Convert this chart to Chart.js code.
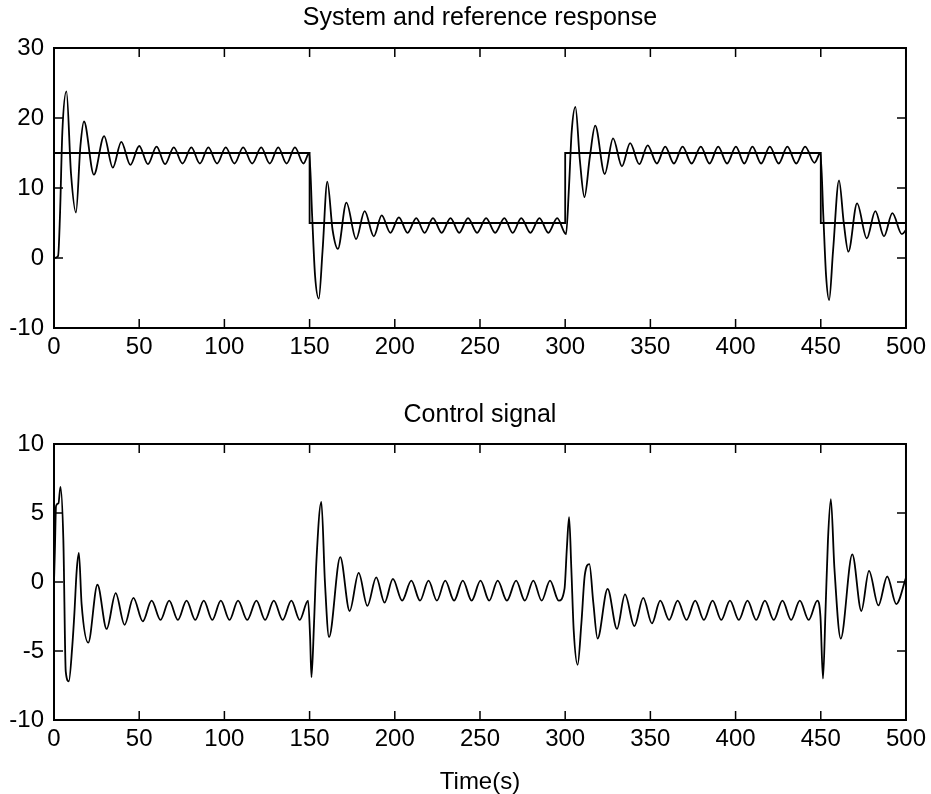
<!DOCTYPE html>
<html>
<head>
<meta charset="utf-8">
<title>System and reference response</title>
<script src="https://cdn.jsdelivr.net/npm/chart.js@4.4.1/dist/chart.umd.min.js"></script>
<style>
  html, body { margin: 0; padding: 0; background: #fff; }
  #wrap { position: relative; width: 931px; height: 794px; overflow: hidden; }
  canvas { position: absolute; left: 0; }
  #topChart { top: 0; }
  #bottomChart { top: 380px; }
</style>
</head>
<body>
<div id="wrap">
  <canvas id="topChart" width="931" height="380"></canvas>
  <canvas id="bottomChart" width="931" height="414"></canvas>
</div>
<script>
// tick labels
const timeTicks = [0, 50, 100, 150, 200, 250, 300, 350, 400, 450, 500];
const responseTicks = [-10, 0, 10, 20, 30];
const controlTicks = [-10, -5, 0, 5, 10];

// reference (setpoint), held until the next switch time
const refTime = [0, 150, 300, 450, 500];
const refValue = [15, 5, 15, 5, 5];

// system response, peaks and troughs
const respTime = [
  0, 2.4, 3.5, 4.9, 7.3, 10, 12.9, 15.5, 17.6, 23.4, 29.4, 34.5, 39.5, 44.8, 50,
  55.1, 60.2, 65.2, 70.3, 75.4, 80.6, 85.6, 90.6, 95.7, 100.8, 105.9, 111, 116.3,
  121.6, 126.6, 131.6, 136.5, 141.4, 146.4, 149.8,
  151.5, 153.2, 155.4, 157.6, 160.4, 163.5, 166.6, 171.6, 177.3, 182.3, 187.7,
  192.3, 197.4, 202.4, 207.5, 212.6, 217.5, 222.4, 227.5, 232.7, 237.8, 243,
  248.3, 253.6, 258.9, 264.3, 269.2, 274.2, 279.6, 284.9, 290.1, 295.3, 300.5,
  302.2, 303.8, 306, 308.6, 311.3, 314.5, 317.6, 323.2, 328.1, 333.3, 338.1,
  343.5, 348.4, 353.8, 358.7, 363.8, 368.9, 374.2, 379.6, 384.7, 389.8, 395,
  400.2, 405.1, 409.9, 415, 420.1, 425.3, 430.4, 435.6, 440.8, 446.3, 449.8,
  451.5, 453.1, 454.9, 457.2, 460.7, 463.5, 466.2, 471.3, 477, 482, 487.1, 492,
  497.6, 500
];
const respValue = [
  0, 0.3, 6, 18, 23.8, 12, 6.5, 16, 19.5, 11.9, 17.4, 12.9, 16.6, 13.3, 16.0,
  13.4, 15.9, 13.4, 15.8, 13.5, 15.8, 13.5, 15.8, 13.5, 15.8, 13.5, 15.8, 13.5,
  15.8, 13.5, 15.8, 13.5, 15.8, 13.5, 15.0,
  6, -2.5, -5.8, 1, 10.9, 4, 1.3, 7.9, 2.7, 6.7, 3.1,
  6.1, 3.6, 5.8, 3.6, 5.7, 3.6, 5.7, 3.6, 5.7, 3.6, 5.7,
  3.6, 5.7, 3.6, 5.7, 3.6, 5.7, 3.6, 5.7, 3.6, 5.7, 3.4,
  10, 18, 21.6, 14, 8.7, 14.5, 18.9, 12.0, 17.1, 13.1, 16.4,
  13.4, 16.1, 13.5, 15.9, 13.5, 15.9, 13.5, 15.9, 13.5, 15.9, 13.5,
  15.9, 13.5, 15.9, 13.5, 15.9, 13.5, 15.9, 13.5, 15.9, 13.6, 15.0,
  6, -2.5, -6.0, 1, 11.1, 5, 0.9, 7.8, 2.8, 6.7, 3.1, 6.4,
  3.4, 4.0
];

// control signal
const ctrlTime = [
  0, 0.5, 1.2, 2.6, 3.8, 5.5, 6.9, 8.7, 10.7, 12, 13.3, 14.6, 16.2, 20.1, 25.5,
  30.9, 36.2, 41.4, 46.6, 52.1, 57.3, 62.5, 67.6, 72.7, 77.8, 82.9, 87.9, 92.9,
  97.9, 103, 108, 113.4, 118.8, 123.9, 129, 134.2, 139.3, 144.2, 149.1,
  150.3, 151.1, 152.6, 154, 156.9, 159, 161.4, 168, 173.5, 178.8, 183.9, 189.1,
  194, 198.9, 204.3, 209.7, 214.8, 219.8, 224.7, 229.6, 234.8, 239.9, 245.1,
  250.3, 255.4, 260.4, 265.8, 271.2, 276.3, 281.3, 286.2, 291.1, 296.2, 299.6,
  301, 302.3, 303.6, 305, 307.3, 309.5, 311.5, 314.2, 316.5, 319, 324.9, 330.4,
  335.1, 340.6, 345.8, 350.9, 355.8, 361, 366, 371.2, 376.3, 381.4, 386.5,
  391.6, 396.7, 401.9, 407, 412.1, 417.2, 422.4, 427.5, 432.6, 437.7, 442.9,
  448, 449.8,
  451.3, 452.8, 454.2, 455.9, 458, 461.7, 468.5, 473.8, 478.3, 483.8, 489,
  494.3, 500
];
const ctrlValue = [
  0, 2.2, 5.5, 5.7, 6.9, 3.0, -6.5, -7.2, -4.7, -2.2, 0.8, 2.1, -1.6, -4.4, -0.2,
  -3.4, -0.8, -3.1, -1.15, -2.85, -1.35, -2.75, -1.35, -2.75, -1.35, -2.75, -1.35, -2.75,
  -1.35, -2.75, -1.35, -2.75, -1.35, -2.75, -1.35, -2.75, -1.35, -2.75, -1.35,
  -4, -6.9, -3, 1.5, 5.8, 0, -4.0, 1.8, -2.1, 0.66, -1.73, 0.34,
  -1.49, 0.22, -1.35, 0.1, -1.35, 0.1, -1.35, 0.1, -1.35, 0.1, -1.35,
  0.1, -1.35, 0.1, -1.35, 0.1, -1.35, 0.1, -1.35, 0.1, -1.35, -0.5,
  2.5, 4.7, 1.0, -3.5, -6.0, -3, 0.5, 1.3, -1.5, -4.1, -0.5, -3.4,
  -0.9, -3.2, -1.15, -3.0, -1.35, -2.75, -1.35, -2.75, -1.35, -2.75, -1.35,
  -2.75, -1.35, -2.75, -1.35, -2.75, -1.35, -2.75, -1.35, -2.75, -1.35, -2.75,
  -1.35, -2.5,
  -7.0, -2, 3, 6.0, 1, -4.1, 2.0, -2.1, 0.8, -1.7, 0.4,
  -1.6, 0.3
];

const FONT = "'Liberation Sans', Arial, sans-serif";

function toPoints(xs, ys) {
  return xs.map((x, i) => ({ x: x, y: ys[i] }));
}

// matlab style box with ticks pointing inwards on all four sides
const boxTicks = {
  id: 'boxTicks',
  afterDatasetsDraw(chart) {
    const { ctx, chartArea: a, scales } = chart;
    const len = 9;
    ctx.save();
    ctx.strokeStyle = '#000';
    ctx.lineWidth = 2;
    ctx.strokeRect(a.left, a.top, a.right - a.left, a.bottom - a.top);
    ctx.lineWidth = 1.5;
    ctx.beginPath();
    scales.x.ticks.forEach(t => {
      const px = scales.x.getPixelForValue(t.value);
      ctx.moveTo(px, a.bottom); ctx.lineTo(px, a.bottom - len);
      ctx.moveTo(px, a.top); ctx.lineTo(px, a.top + len);
    });
    scales.y.ticks.forEach(t => {
      const py = scales.y.getPixelForValue(t.value);
      ctx.moveTo(a.left, py); ctx.lineTo(a.left + len, py);
      ctx.moveTo(a.right, py); ctx.lineTo(a.right - len, py);
    });
    ctx.stroke();
    ctx.restore();
  }
};

function subplotOptions(cfg) {
  return {
    responsive: false,
    animation: false,
    events: [],
    layout: { padding: { left: 0, right: 24, top: 0, bottom: 0 } },
    plugins: {
      legend: { display: false },
      tooltip: { enabled: false },
      title: {
        display: true,
        fullSize: false,
        text: cfg.title,
        color: '#000',
        font: { family: FONT, size: 25, weight: 'normal' },
        padding: cfg.titlePadding
      }
    },
    scales: {
      x: {
        type: 'linear',
        min: 0,
        max: 500,
        grid: { display: false, drawTicks: false },
        border: { display: false },
        ticks: {
          color: '#000',
          font: { family: FONT, size: 24 },
          padding: 5,
          maxRotation: 0,
          autoSkip: false,
          callback: v => String(v)
        },
        afterBuildTicks: s => { s.ticks = timeTicks.map(v => ({ value: v })); },
        afterFit: s => { s.height = cfg.xHeight; },
        title: cfg.xTitle ? {
          display: true,
          text: cfg.xTitle,
          color: '#000',
          font: { family: FONT, size: 24, lineHeight: 1 },
          padding: { top: 0, bottom: 0 }
        } : { display: false }
      },
      y: {
        type: 'linear',
        min: cfg.yTicks[0],
        max: cfg.yTicks[cfg.yTicks.length - 1],
        grid: { display: false, drawTicks: false },
        border: { display: false },
        ticks: {
          color: '#000',
          font: { family: FONT, size: 24 },
          padding: 10,
          callback: v => String(v)
        },
        afterBuildTicks: s => { s.ticks = cfg.yTicks.map(v => ({ value: v })); },
        afterFit: s => { s.width = 54; }
      }
    }
  };
}

const lineStyle = {
  borderColor: '#000',
  borderWidth: 1.8,
  pointRadius: 0,
  fill: false
};

new Chart(document.getElementById('topChart').getContext('2d'), {
  type: 'line',
  data: {
    datasets: [
      Object.assign({ label: 'Reference', data: toPoints(refTime, refValue), stepped: 'before' }, lineStyle),
      Object.assign({ label: 'System', data: toPoints(respTime, respValue), cubicInterpolationMode: 'monotone' }, lineStyle)
    ]
  },
  options: subplotOptions({
    title: 'System and reference response',
    titlePadding: { top: 3, bottom: 15 },
    xHeight: 52,
    yTicks: responseTicks
  }),
  plugins: [boxTicks]
});

new Chart(document.getElementById('bottomChart').getContext('2d'), {
  type: 'line',
  data: {
    datasets: [
      Object.assign({ label: 'Control', data: toPoints(ctrlTime, ctrlValue), cubicInterpolationMode: 'monotone' }, lineStyle)
    ]
  },
  options: subplotOptions({
    title: 'Control signal',
    titlePadding: { top: 20, bottom: 14 },
    xHeight: 74,
    xTitle: 'Time(s)',
    yTicks: controlTicks
  }),
  plugins: [boxTicks]
});
</script>
</body>
</html>
